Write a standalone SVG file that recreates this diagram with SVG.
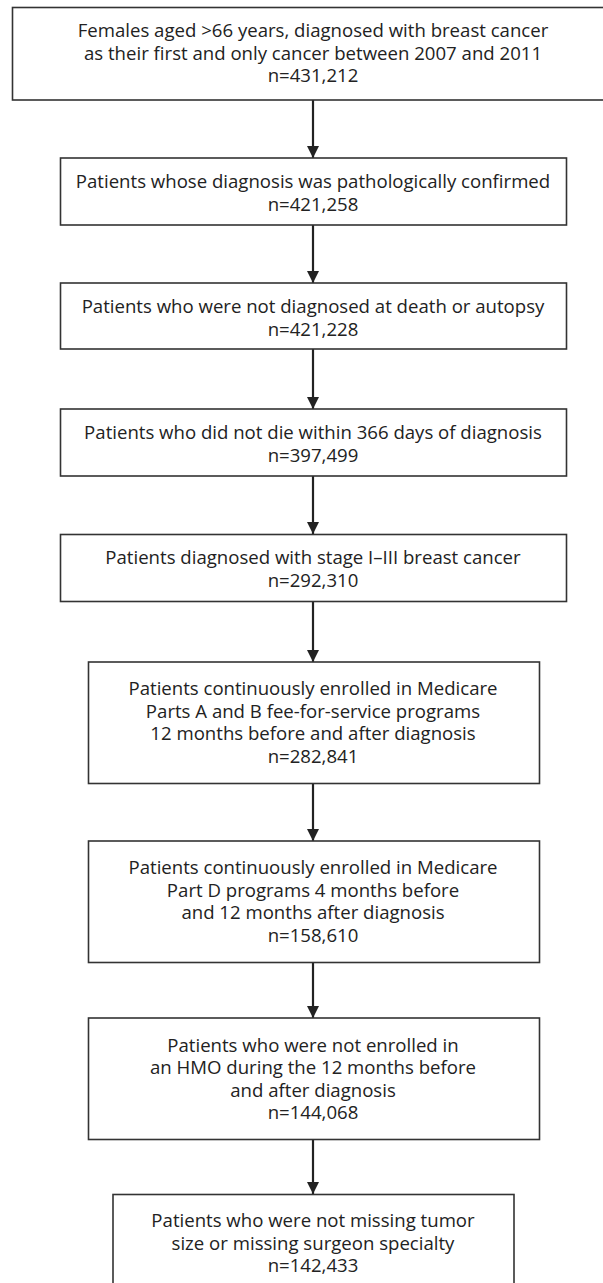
<svg xmlns="http://www.w3.org/2000/svg" width="603" height="1283" viewBox="0 0 603 1283">
<style>
rect.box{fill:#fff;stroke:#333;stroke-width:1.6}
text{font-family:"Open Sans","Noto Sans","Liberation Sans",sans-serif;font-size:18.6px;fill:#222;text-anchor:middle}
line.c{stroke:#222;stroke-width:2.2}
</style>
<defs>
<marker id="ah" markerWidth="12" markerHeight="12" viewBox="0 0 12 12" refX="12" refY="6" orient="auto" markerUnits="userSpaceOnUse">
<path d="M0,0 L12,6 L0,12 Z" fill="#222"/>
</marker>
</defs>
<rect width="603" height="1283" fill="#fff"/>
<g id="connectors">
<line class="c" x1="313" y1="100" x2="313" y2="158" marker-end="url(#ah)"/>
<line class="c" x1="313" y1="225" x2="313" y2="283" marker-end="url(#ah)"/>
<line class="c" x1="313" y1="349" x2="313" y2="409" marker-end="url(#ah)"/>
<line class="c" x1="313" y1="476" x2="313" y2="534" marker-end="url(#ah)"/>
<line class="c" x1="313" y1="601" x2="313" y2="662" marker-end="url(#ah)"/>
<line class="c" x1="313" y1="783" x2="313" y2="841" marker-end="url(#ah)"/>
<line class="c" x1="313" y1="962" x2="313" y2="1018" marker-end="url(#ah)"/>
<line class="c" x1="313" y1="1139" x2="313" y2="1194" marker-end="url(#ah)"/>
</g>
<g id="n1">
<rect class="box" x="12.5" y="7.5" width="600" height="92.5"/>
<text x="313" y="37">Females aged &gt;66 years, diagnosed with breast cancer</text>
<text x="313" y="59.5">as their first and only cancer between 2007 and 2011</text>
<text x="313" y="82">n=431,212</text>
</g>
<g id="n2">
<rect class="box" x="60.5" y="158" width="506" height="67"/>
<text x="313" y="188">Patients whose diagnosis was pathologically confirmed</text>
<text x="313" y="211">n=421,258</text>
</g>
<g id="n3">
<rect class="box" x="60.5" y="283" width="506" height="66"/>
<text x="313" y="313">Patients who were not diagnosed at death or autopsy</text>
<text x="313" y="335.5">n=421,228</text>
</g>
<g id="n4">
<rect class="box" x="60.5" y="409" width="506" height="67"/>
<text x="313" y="439">Patients who did not die within 366 days of diagnosis</text>
<text x="313" y="461.5">n=397,499</text>
</g>
<g id="n5">
<rect class="box" x="60.5" y="534.5" width="506" height="67"/>
<text x="313" y="564">Patients diagnosed with stage I–III breast cancer</text>
<text x="313" y="586.5">n=292,310</text>
</g>
<g id="n6">
<rect class="box" x="88.5" y="662" width="451" height="121.5"/>
<text x="313" y="695">Patients continuously enrolled in Medicare</text>
<text x="313" y="717.5">Parts A and B fee-for-service programs</text>
<text x="313" y="740">12 months before and after diagnosis</text>
<text x="313" y="762.5">n=282,841</text>
</g>
<g id="n7">
<rect class="box" x="88.5" y="841" width="451" height="121.5"/>
<text x="313" y="874">Patients continuously enrolled in Medicare</text>
<text x="313" y="896.5">Part D programs 4 months before</text>
<text x="313" y="919">and 12 months after diagnosis</text>
<text x="313" y="941.5">n=158,610</text>
</g>
<g id="n8">
<rect class="box" x="88.5" y="1018" width="451" height="121.5"/>
<text x="313" y="1051.5">Patients who were not enrolled in</text>
<text x="313" y="1074">an HMO during the 12 months before</text>
<text x="313" y="1096.5">and after diagnosis</text>
<text x="313" y="1119">n=144,068</text>
</g>
<g id="n9">
<rect class="box" x="113" y="1194.5" width="401" height="100"/>
<text x="313" y="1227">Patients who were not missing tumor</text>
<text x="313" y="1249.5">size or missing surgeon specialty</text>
<text x="313" y="1272">n=142,433</text>
</g>
</svg>
